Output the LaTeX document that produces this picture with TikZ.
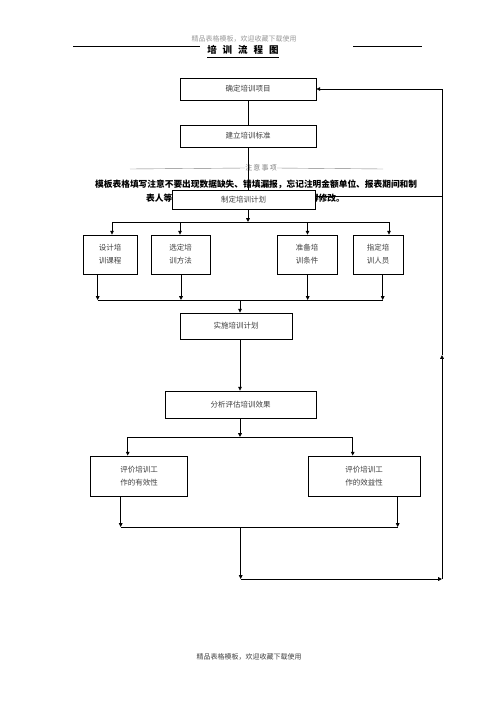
\documentclass[tikz,border=0pt]{standalone}
\usepackage{fontspec}
\setmainfont{Noto Sans CJK SC}
\usetikzlibrary{arrows.meta,calc}
\tikzset{
  >={Triangle[length=3.8pt,width=3.6pt]},
  box/.style={draw=black,line width=0.8pt,fill=white,inner sep=1pt,align=center,
              font=\fontsize{7.5}{13}\selectfont,text=black!75},
  ln/.style={line width=0.8pt},
  ar/.style={->,line width=0.8pt},
  wm/.style={font=\bfseries\fontsize{8.7}{10}\selectfont,inner sep=0pt},
  small/.style={font=\fontsize{7}{8}\selectfont,text=black!60,inner sep=0pt},
}

\begin{document}
\begin{tikzpicture}[x=1pt,y=-1pt]
  \useasboundingbox (0,0) rectangle (496,702);
  % header
  \node[small,text=black!40] (hd) at (244,39) {精品表格模板，欢迎收藏下载使用};
  \node[font=\bfseries\fontsize{9.5}{10}\selectfont,inner sep=0pt] (tt) at (243,50)
    {培\hspace{6pt}训\hspace{6pt}流\hspace{6pt}程\hspace{6pt}图};
  \draw[line width=0.6pt] ($(tt.south west)+(0,3)$) -- ($(tt.south east)+(0,3)$);
  \draw[ln] (73,46) -- (200,46) (353,46) -- (422,46);
  % watermark
  \node[small,text=black!50] (zy) at (261,168) {注\,意\,事\,项};
  \draw[black!50,line width=0.4pt] (130,169) -- (zy.west) (zy.east) -- (383,169);
  \node[wm,anchor=west] (w1) at (95,184) {模板表格填写注意不要出现数据缺失、错填漏报，忘记注明金额单位、报表期间和制};
  \node[wm,anchor=west] (w2) at (146,198) {表人等};
  \node[wm,anchor=east] (w3) at (345,198) {得修改。};
  % boxes
  \node[box,minimum width=136pt,minimum height=22pt] (xm) at (248,89) {确定培训项目};
  \node[box,minimum width=136pt,minimum height=22pt] (jl) at (248,136) {建立培训标准};
  \node[box,minimum width=143pt,minimum height=19pt] (zd) at (243.5,199.5) {制定培训计划};
  \node[box,minimum width=54pt,minimum height=39pt] (kc) at (110,254.5) {设计培\\训课程};
  \node[box,minimum width=59pt,minimum height=39pt] (ff) at (180.5,254.5) {选定培\\训方法};
  \node[box,minimum width=60pt,minimum height=39pt] (tj) at (307,254.5) {准备培\\训条件};
  \node[box,minimum width=50pt,minimum height=39pt] (ry) at (378,254.5) {指定培\\训人员};
  \node[box,minimum width=112pt,minimum height=26pt] (ss) at (236,326) {实施培训计划};
  \node[box,minimum width=151pt,minimum height=27pt] (fx) at (240.5,404.5) {分析评估培训效果};
  \node[box,minimum width=97pt,minimum height=40pt] (yx) at (139,476) {评价培训工\\作的有效性};
  \node[box,minimum width=112pt,minimum height=40pt] (xy) at (364,476) {评价培训工\\作的效益性};
  % connectors
  \coordinate (b1) at (248,222);
  \coordinate (m1) at (240,300);
  \coordinate (b2) at (240,437);
  \coordinate (m2) at (240.7,527);
  \coordinate (c1) at (240.7,579);
  \coordinate (c2) at (442,579);
  \draw[ln] (xm) -- (jl);
  \draw[ln] (jl.south) -- (jl.south |- zd.north);
  \draw[ar] (jl.south |- zd.south) -- (b1);
  \draw[ln] (112,222) -- (389,222);
  \foreach \n/\x in {kc/112,ff/180,tj/307.5,ry/389}
    \draw[ar] (\x,222) -- (\x,0 |- \n.north);
  \draw[ln] (97.7,300) -- (382.7,300);
  \foreach \n/\x in {kc/97.7,ff/181,tj/307.7,ry/382.7}
    \draw[ar] (\x,0 |- \n.south) -- (\x,300);
  \draw[ar] (m1) -- (m1 |- ss.north);
  \draw[ar] (m1 |- ss.south) -- (m1 |- fx.north);
  \draw[ar] (m1 |- fx.south) -- (b2);
  \draw[ln] (127.7,437) -- (352.7,437);
  \draw[ar] (127.7,437) -- (127.7,0 |- yx.north);
  \draw[ar] (352.7,437) -- (352.7,0 |- xy.north);
  \draw[ar] (120.7,0 |- yx.south) -- (120.7,527);
  \draw[ar] (397.7,0 |- xy.south) -- (397.7,527);
  \draw[ln] (120.7,527) -- (397.7,527);
  \draw[ar] (m2) -- (c1);
  \draw[ar] (c1) -- (c2);
  \draw[ar] (c2) -- (442,355);
  \draw[ar] (442,355) -- (c2 |- xm.east) -- (xm.east);
  \draw[ln] (zd.east |- 0,196) -- (442,196);
  % footer
  \node[small,text=black!75] (ft) at (249,657) {精品表格模板，欢迎收藏下载使用};
\end{tikzpicture}
\end{document}
